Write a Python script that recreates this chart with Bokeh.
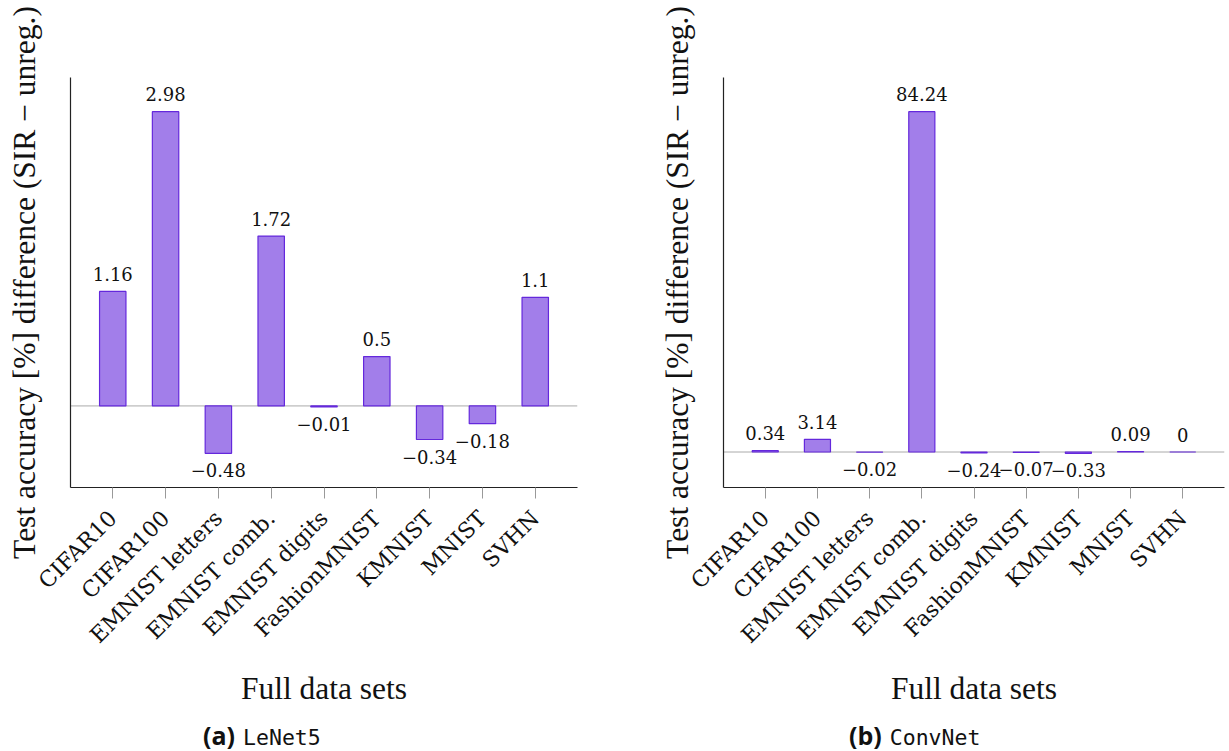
import math
from bokeh.plotting import figure
from bokeh.models import (ColumnDataSource, LabelSet, Span, FactorRange, Range1d,
                          FixedTicker, Div)
from bokeh.core.properties import value
from bokeh.layouts import row, column
from bokeh.embed import file_html
from bokeh.resources import INLINE

categories = ["CIFAR10", "CIFAR100", "EMNIST letters", "EMNIST comb.",
              "EMNIST digits", "FashionMNIST", "KMNIST", "MNIST", "SVHN"]
lenet5_diff = [1.16, 2.98, -0.48, 1.72, -0.01, 0.5, -0.34, -0.18, 1.1]
convnet_diff = [0.34, 3.14, -0.02, 84.24, -0.24, -0.07, -0.33, 0.09, 0.0]
y_label = "Test accuracy [%] difference (SIR \u2212 unreg.)"
x_label = "Full data sets"
captions = [("(a)", "LeNet5"), ("(b)", "ConvNet")]

FILL = "#a27eea"
LINE = "#6428dc"
SERIF_T = "Liberation Serif"
SERIF_N = "DejaVu Serif"
FIG_H = 720


def fmt(v):
    return f"{v:g}".replace("-", "\u2212")


def make_panel(values, width, border_left, border_right):
    lo = min(values)
    hi = max(values)
    pad = 0.1 * (hi - lo)
    p = figure(
        x_range=FactorRange(*categories, range_padding=0.3,
                            range_padding_units="absolute"),
        y_range=Range1d(lo - pad, hi + pad),
        width=width, height=FIG_H, output_backend="svg", toolbar_location=None,
        min_border_left=border_left, min_border_right=border_right,
        min_border_top=77, min_border_bottom=FIG_H - 487,
    )
    p.outline_line_color = None
    p.xgrid.grid_line_color = None
    p.ygrid.grid_line_color = None
    p.background_fill_color = "white"
    p.border_fill_color = "white"

    p.add_layout(Span(location=0, dimension="width", line_color="#aaaaaa",
                      line_width=1, level="underlay"))

    src = ColumnDataSource(dict(cat=categories, val=values))
    p.vbar(x="cat", top="val", bottom=0, width=0.5, source=src,
           fill_color=FILL, line_color=LINE, line_width=1.2)

    pos = ColumnDataSource(dict(cat=[c for c, v in zip(categories, values) if v >= 0],
                                val=[v for v in values if v >= 0],
                                lab=[fmt(v) for v in values if v >= 0]))
    neg = ColumnDataSource(dict(cat=[c for c, v in zip(categories, values) if v < 0],
                                val=[v for v in values if v < 0],
                                lab=[fmt(v) for v in values if v < 0]))
    for s, off in ((pos, 10.5), (neg, -24)):
        p.add_layout(LabelSet(x="cat", y="val", text="lab", source=s,
                              y_offset=off, text_align="center",
                              text_baseline="alphabetic",
                              text_font=value("DejaVu Serif, serif"),
                              text_font_size=value("18px"),
                              text_color="#111111"))

    ya = p.yaxis[0]
    ya.ticker = FixedTicker(ticks=[])
    ya.major_tick_line_color = None
    ya.minor_tick_line_color = None
    ya.axis_line_color = "#222222"
    ya.axis_line_width = 1.2
    ya.axis_label = y_label
    ya.axis_label_text_font = SERIF_T
    ya.axis_label_text_font_size = "31.5px"
    ya.axis_label_text_font_style = "normal"
    ya.axis_label_text_color = "#111111"
    ya.axis_label_standoff = 29

    xa = p.xaxis[0]
    xa.major_label_orientation = math.pi / 4
    xa.major_label_text_font = SERIF_N
    xa.major_label_text_font_size = "22px"
    xa.major_label_text_color = "#111111"
    xa.major_label_standoff = 16
    xa.major_tick_in = 0
    xa.major_tick_out = 11
    xa.major_tick_line_color = "#999999"
    xa.minor_tick_line_color = None
    xa.axis_line_color = "#222222"
    xa.axis_line_width = 1.2
    xa.axis_label = x_label
    xa.axis_label_text_font = SERIF_T
    xa.axis_label_text_font_size = "31.5px"
    xa.axis_label_text_font_style = "normal"
    xa.axis_label_text_color = "#111111"
    xa.axis_label_standoff = 11
    return p


p1 = make_panel(lenet5_diff, 628, 70, 51)
p2 = make_panel(convnet_diff, 600, 95, 4)


def caption(tag, name, width, pad):
    html = (f'<div style="padding-left:{pad}px;white-space:nowrap;line-height:30px;">'
            f'<span style="font-family:\'Open Sans\';font-weight:bold;font-size:25px;color:#111;">{tag}</span>'
            f'<span style="font-family:\'DejaVu Sans Mono\';font-size:21.5px;color:#111;margin-left:8px;">{name}</span>'
            '</div>')
    return Div(text=html, width=width, height=30, margin=0)


d1 = caption(captions[0][0], captions[0][1], 628, 203)
d2 = caption(captions[1][0], captions[1][1], 600, 221)

layout = column(row(p1, p2, spacing=0), row(d1, d2, spacing=0), spacing=0)
open("out.html", "w").write(file_html(layout, INLINE))
